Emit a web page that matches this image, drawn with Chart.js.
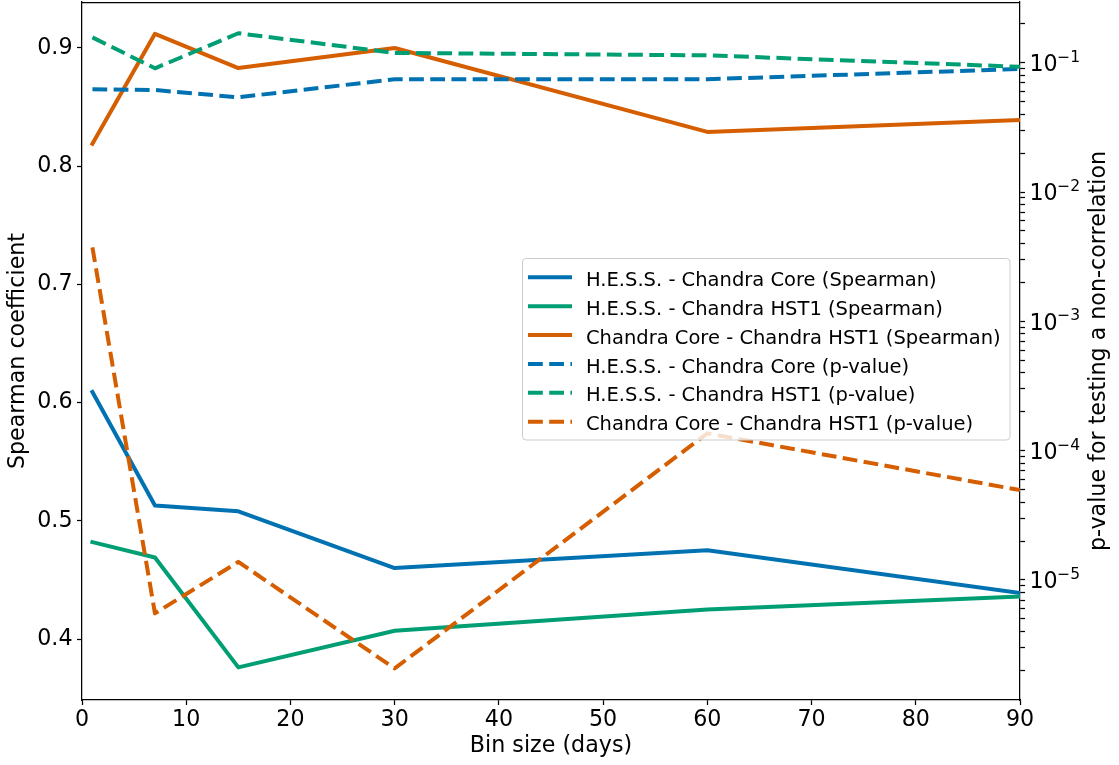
<!DOCTYPE html>
<html>
<head>
<meta charset="utf-8">
<script src="https://cdn.jsdelivr.net/npm/chart.js@4/dist/chart.umd.min.js"></script>
<style>
  html, body { margin: 0; padding: 0; background: #ffffff; }
  #wrap { width: 1119px; height: 765px; position: relative; }
</style>
</head>
<body>
<div id="wrap"><canvas id="chart" width="1119" height="765"></canvas></div>
<script>
// Bin sizes (days)
const binSizes = [1, 7, 15, 30, 60, 90];

// Spearman rank correlation coefficients
const spearmanHessCore = [0.609, 0.513, 0.508, 0.460, 0.475, 0.439];
const spearmanHessHst1 = [0.482, 0.469, 0.376, 0.407, 0.425, 0.436];
const spearmanCoreHst1 = [0.819, 0.912, 0.883, 0.900, 0.829, 0.839];

// p-values for the non-correlation hypothesis
const pvalHessCore = [0.0623, 0.0615, 0.0540, 0.0745, 0.0745, 0.0894];
const pvalHessHst1 = [0.157, 0.0905, 0.169, 0.119, 0.114, 0.093];
const pvalCoreHst1 = [3.73e-3, 5.52e-6, 1.38e-5, 2.07e-6, 1.36e-4, 4.95e-5];

const seriesLabels = [
  'H.E.S.S. - Chandra Core (Spearman)',
  'H.E.S.S. - Chandra HST1 (Spearman)',
  'Chandra Core - Chandra HST1 (Spearman)',
  'H.E.S.S. - Chandra Core (p-value)',
  'H.E.S.S. - Chandra HST1 (p-value)',
  'Chandra Core - Chandra HST1 (p-value)'
];

const xTitle = 'Bin size (days)';
const yTitle = 'Spearman coefficient';
const y1Title = 'p-value for testing a non-correlation';

const BLUE = '#0072B2', GREEN = '#009E73', ORANGE = '#D55E00';
const FONT = "'DejaVu Sans', 'Liberation Sans', sans-serif";
const DASH = [14.8, 6.4];
const LW = 4;
const AX_FONT = 22.2;

const seriesValues = [spearmanHessCore, spearmanHessHst1, spearmanCoreHst1,
                      pvalHessCore, pvalHessHst1, pvalCoreHst1];
const seriesColors = [BLUE, GREEN, ORANGE, BLUE, GREEN, ORANGE];

const datasets = seriesValues.map((vals, i) => {
  const dashed = i >= 3;
  return {
    label: seriesLabels[i],
    data: binSizes.map((x, k) => ({ x: x, y: vals[k] })),
    yAxisID: dashed ? 'y1' : 'y',
    borderColor: seriesColors[i],
    backgroundColor: seriesColors[i],
    borderWidth: LW,
    borderDash: dashed ? DASH : [],
    borderCapStyle: dashed ? 'butt' : 'square',
    borderJoinStyle: 'round',
    pointRadius: 0,
    pointHoverRadius: 0,
    tension: 0,
    fill: false,
    clip: 0,
    order: 5 - i
  };
});

function decadeExponent(v) {
  const e = Math.log10(v);
  const r = Math.round(e);
  return Math.abs(e - r) > 1e-6 ? null : r;
}

function noOverflowPad(scale) {
  scale.paddingTop = 0; scale.paddingBottom = 0;
  scale.paddingLeft = 0; scale.paddingRight = 0;
}

const tickFont = { family: FONT, size: AX_FONT };
const gridOpts = { drawOnChartArea: false, drawTicks: true, tickLength: 5, tickWidth: 1.25, tickColor: '#000000' };
const borderOpts = { display: true, color: '#000000', width: 1.25 };

// Top spine of the axes box
const framePlugin = {
  id: 'frame',
  afterDraw(chart) {
    const { ctx, chartArea: a } = chart;
    ctx.save();
    ctx.strokeStyle = '#000000';
    ctx.lineWidth = 1.25;
    ctx.beginPath();
    ctx.moveTo(a.left, a.top + 0.5);
    ctx.lineTo(a.right, a.top + 0.5);
    ctx.stroke();
    ctx.restore();
  }
};

// Decade labels of the log axis, written as 10 with a raised exponent
const powerLabelPlugin = {
  id: 'powerLabels',
  afterDraw(chart) {
    const scale = chart.scales.y1;
    const { ctx } = chart;
    ctx.save();
    ctx.fillStyle = '#000000';
    ctx.textAlign = 'left';
    ctx.textBaseline = 'alphabetic';
    scale.ticks.forEach(t => {
      const e = decadeExponent(t.value);
      if (e === null) return;
      const y = scale.getPixelForValue(t.value);
      const x0 = scale.left + 9.5;
      ctx.font = AX_FONT + 'px ' + FONT;
      ctx.fillText('10', x0, y + 8.2);
      const w = ctx.measureText('10').width;
      ctx.font = '15.5px ' + FONT;
      ctx.fillText(String(e).replace('-', '\u2212'), x0 + w - 0.5, y - 1);
    });
    ctx.restore();
  }
};

// Right axis title, reading bottom to top
const rightTitlePlugin = {
  id: 'rightTitle',
  afterDraw(chart) {
    const { ctx, chartArea: a } = chart;
    ctx.save();
    ctx.translate(1105, (a.top + a.bottom) / 2);
    ctx.rotate(-Math.PI / 2);
    ctx.font = AX_FONT + 'px ' + FONT;
    ctx.fillStyle = '#000000';
    ctx.textAlign = 'center';
    ctx.textBaseline = 'alphabetic';
    ctx.fillText(y1Title, 0, 0);
    ctx.restore();
  }
};

// Legend box inside the plot area
const legendPlugin = {
  id: 'insetLegend',
  afterDatasetsDraw(chart) {
    const { ctx } = chart;
    const bx = 522.5, by = 258.5, bw = 487.5, bh = 181.5, r = 3.5;
    ctx.save();
    ctx.beginPath();
    ctx.moveTo(bx + r, by);
    ctx.lineTo(bx + bw - r, by);
    ctx.arcTo(bx + bw, by, bx + bw, by + r, r);
    ctx.lineTo(bx + bw, by + bh - r);
    ctx.arcTo(bx + bw, by + bh, bx + bw - r, by + bh, r);
    ctx.lineTo(bx + r, by + bh);
    ctx.arcTo(bx, by + bh, bx, by + bh - r, r);
    ctx.lineTo(bx, by + r);
    ctx.arcTo(bx, by, bx + r, by, r);
    ctx.closePath();
    ctx.fillStyle = 'rgba(255,255,255,0.8)';
    ctx.fill();
    ctx.strokeStyle = '#cccccc';
    ctx.lineWidth = 1;
    ctx.stroke();

    ctx.font = '19.5px ' + FONT;
    ctx.textAlign = 'left';
    ctx.textBaseline = 'alphabetic';
    chart.data.datasets.forEach((ds, i) => {
      const yc = 277.3 + i * 28.87;
      ctx.beginPath();
      ctx.setLineDash(ds.borderDash || []);
      ctx.lineDashOffset = 0;
      ctx.lineCap = 'butt';
      ctx.strokeStyle = ds.borderColor;
      ctx.lineWidth = LW;
      ctx.moveTo(528, yc);
      ctx.lineTo(572, yc);
      ctx.stroke();
      ctx.setLineDash([]);
      ctx.fillStyle = '#000000';
      ctx.fillText(ds.label, 586, yc + 8.7);
    });
    ctx.restore();
  }
};

new Chart(document.getElementById('chart'), {
  type: 'line',
  data: { datasets: datasets },
  options: {
    responsive: false,
    animation: false,
    devicePixelRatio: 1,
    layout: { padding: { top: 2, left: 0, right: 0, bottom: 0 } },
    plugins: { legend: { display: false }, tooltip: { enabled: false } },
    events: [],
    scales: {
      x: {
        type: 'linear',
        position: 'bottom',
        min: 0, max: 90,
        ticks: { stepSize: 10, font: tickFont, color: '#000000', padding: 2, maxRotation: 0, autoSkip: false,
                  callback: v => String(v) },
        grid: gridOpts,
        border: borderOpts,
        title: { display: true, text: xTitle, font: { family: FONT, size: AX_FONT }, color: '#000000',
                 padding: { top: 0, bottom: 5.5 } },
        afterFit(scale) { scale.height = 65; noOverflowPad(scale); }
      },
      y: {
        type: 'linear',
        position: 'left',
        min: 0.3484, max: 0.9389,
        ticks: { stepSize: 0.1, includeBounds: false, font: tickFont, color: '#000000', padding: 4.5,
                 callback: v => Number(v).toFixed(1) },
        grid: gridOpts,
        border: borderOpts,
        title: { display: true, text: yTitle, font: { family: FONT, size: AX_FONT }, color: '#000000',
                 padding: { top: 5.4, bottom: 0 } },
        afterFit(scale) { scale.width = 82; noOverflowPad(scale); }
      },
      y1: {
        type: 'logarithmic',
        position: 'right',
        min: 1.18e-6, max: 0.2947,
        ticks: { font: tickFont, color: '#000000', padding: 6, autoSkip: false,
                 callback: () => '' },
        grid: gridOpts,
        border: borderOpts,
        afterBuildTicks(scale) {
          const out = [];
          for (let k = -7; k <= 0; k++) {
            for (let m = 1; m <= 9; m++) {
              const v = Number((m * Math.pow(10, k)).toPrecision(6));
              if (v >= scale.min && v <= scale.max) out.push({ value: v, major: m === 1 });
            }
          }
          scale.ticks = out;
        },
        afterFit(scale) { scale.width = 99; noOverflowPad(scale); }
      }
    }
  },
  plugins: [framePlugin, powerLabelPlugin, rightTitlePlugin, legendPlugin]
});
</script>
</body>
</html>
